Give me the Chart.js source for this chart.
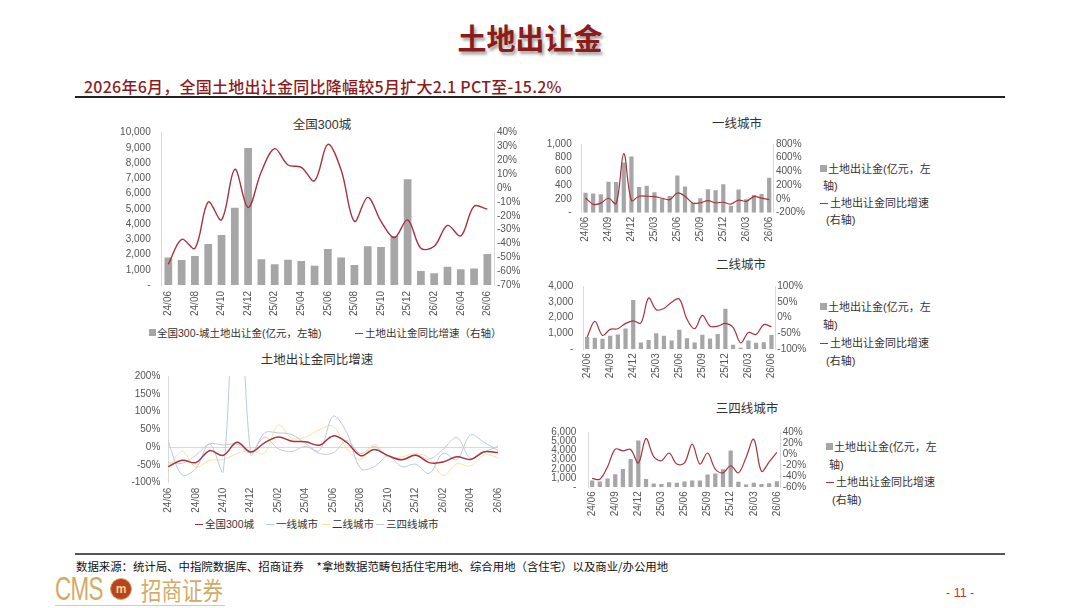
<!DOCTYPE html>
<html><head><meta charset="utf-8">
<script src="https://cdn.jsdelivr.net/npm/chart.js@4.4.1/dist/chart.umd.min.js"></script>
<style>
html,body{margin:0;padding:0;background:#fff;}
body{width:1080px;height:608px;position:relative;overflow:hidden;font-family:"Liberation Sans","Noto Sans CJK SC",sans-serif;}
.abs{position:absolute;white-space:nowrap;}
.ctitle{position:absolute;font-size:12.5px;color:#333;transform:translateX(-50%);font-family:"Liberation Sans","Noto Sans CJK SC";}
.lg{position:absolute;font-size:11px;color:#333;white-space:nowrap;font-family:"Liberation Sans","Noto Sans CJK SC";line-height:14px;}
.sq{display:inline-block;width:7px;height:7px;background:#a6a6a6;margin-right:1px;vertical-align:1px;}
.ln{display:inline-block;width:8px;height:1.5px;margin-right:2px;vertical-align:3px;}
.wrap{position:absolute;}
</style></head>
<body>
<div class="abs" style="left:0;width:1060px;top:16px;text-align:center;font-family:'Noto Sans CJK SC';font-weight:700;font-size:29px;color:#8c1c1c;text-shadow:2px 3px 3px rgba(0,0,0,0.35);">土地出让金</div>
<div class="abs" style="left:84px;top:74px;font-family:'Noto Sans CJK SC';font-weight:500;font-size:16px;color:#8c1c1c;letter-spacing:0.25px;">2026年6月，全国土地出让金同比降幅较5月扩大2.1 PCT至-15.2%</div>
<div class="abs" style="left:75px;top:96px;width:930px;height:1.5px;background:#222;"></div>

<div class="ctitle" style="left:322px;top:114px;">全国300城</div>
<div class="ctitle" style="left:317px;top:349px;">土地出让金同比增速</div>
<div class="ctitle" style="left:737px;top:113px;">一线城市</div>
<div class="ctitle" style="left:741px;top:254px;">二线城市</div>
<div class="ctitle" style="left:747px;top:398px;">三四线城市</div>

<div class="wrap" id="w1"><canvas id="c1"></canvas></div>
<div class="wrap" id="w2"><canvas id="c2"></canvas></div>
<div class="wrap" id="w3"><canvas id="c3"></canvas></div>
<div class="wrap" id="w4"><canvas id="c4"></canvas></div>
<div class="wrap" id="w5"><canvas id="c5"></canvas></div>

<div class="lg" style="left:149px;top:326px;font-size:10.5px;"><span class="sq"></span>全国300-城土地出让金(亿元，左轴)</div>
<div class="lg" style="left:355px;top:326px;font-size:10.5px;"><span class="ln" style="background:#a8323e"></span>土地出让金同比增速（右轴）</div>

<div class="lg" style="left:195px;top:517px;font-size:10.5px;"><span class="ln" style="background:#a8323e"></span>全国300城</div>
<div class="lg" style="left:266px;top:517px;font-size:10.5px;"><span class="ln" style="background:#b9c9e3"></span>一线城市</div>
<div class="lg" style="left:322px;top:517px;font-size:10.5px;"><span class="ln" style="background:#fbe19a"></span>二线城市</div>
<div class="lg" style="left:376px;top:517px;font-size:10.5px;"><span class="ln" style="background:#c9c9c9"></span>三四线城市</div>

<div class="lg" style="left:820px;top:161px;line-height:17px;"><span class="sq"></span>土地出让金(亿元，左<br>&nbsp;轴)<br><span class="ln" style="background:#a8323e"></span>土地出让金同比增速<br>&nbsp;&nbsp;(右轴)</div>
<div class="lg" style="left:820px;top:298px;line-height:18px;"><span class="sq"></span>土地出让金(亿元，左<br>&nbsp;轴)<br><span class="ln" style="background:#a8323e"></span>土地出让金同比增速<br>&nbsp;&nbsp;(右轴)</div>
<div class="lg" style="left:826px;top:439px;line-height:17.5px;"><span class="sq"></span>土地出让金(亿元，左<br>&nbsp;轴)<br><span class="ln" style="background:#a8323e"></span>土地出让金同比增速<br>&nbsp;&nbsp;(右轴)</div>

<div class="abs" style="left:75px;top:553px;width:930px;height:2px;background:#555;"></div>
<div class="abs" style="left:76px;top:558px;font-size:11.4px;color:#111;font-family:'Noto Sans CJK SC';">数据来源：统计局、中指院数据库、招商证券&nbsp;&nbsp;&nbsp;&nbsp;&nbsp;*拿地数据范畴包括住宅用地、综合用地（含住宅）以及商业/办公用地</div>
<div class="abs" style="left:55px;top:569px;font-family:'Liberation Sans';font-size:34px;color:#d3ab69;transform:scaleX(0.66);transform-origin:left;letter-spacing:-1px;">CMS</div>
<div class="abs" style="left:110px;top:578px;width:20px;height:20px;border-radius:50%;background:#b8441f;border:1.5px solid #d3ab69;color:#f3d48a;font-size:12px;font-weight:700;text-align:center;line-height:20px;">m</div>
<div class="abs" style="left:141px;top:571px;font-family:'Noto Sans CJK SC';font-size:25px;color:#d3ab69;transform:scaleX(0.82);transform-origin:left;">招商证券</div>
<div class="abs" style="left:55px;top:605px;width:170px;height:1px;background:#e3c99a;"></div>
<div class="abs" style="left:946px;top:586px;font-size:12.5px;color:#c0392b;">- 11 -</div>

<script>
const months = ['24/06','24/07','24/08','24/09','24/10','24/11','24/12','25/01','25/02','25/03','25/04','25/05','25/06','25/07','25/08','25/09','25/10','25/11','25/12','26/01','26/02','26/03','26/04','26/05','26/06'];
const nationalAmount = [1800,1640,1900,2690,3280,5080,9000,1690,1360,1660,1580,1270,2360,1800,1310,2540,2490,3220,6940,920,770,1200,1030,1090,2030];
const nationalYoY = [-55,-37,-43.5,-10,-23,13.5,-14,12,28.5,16.7,15,5.3,31.6,13,-24,-6.7,-24,-35.8,-23,-43.5,-42,-27,-34.6,-13.1,-15.2];
const tier1Amount = [290,278,270,452,448,730,817,374,391,296,200,243,543,383,139,209,343,326,413,100,339,196,257,274,509];
const tier1YoY = [15,-78,-60,10,-68,660,-20,40,40,35,10,-10,87,40,-60,-55,-25,-55,-48,-74,-17,-35,35,13,-9];
const tier2Amount = [780,725,670,860,940,1310,3120,430,590,1020,860,550,1235,705,430,920,690,960,2570,290,100,550,410,450,900];
const tier2YoY = [-61,-12,-56,-37,-35,-18,-10,-17,62,25,29,49,59,-5,-35,7,-27,-27,-18,-31,-80,-47,-53,-22,-29];
const tier34Amount = [740,620,960,1420,1980,3070,5080,900,400,370,560,500,620,740,740,1390,1490,1950,3990,590,310,500,370,430,650];
const tier34YoY = [-44,-45.5,-23,9,6,8.5,-16,28,-4.5,-12,2,-18,-16,18,-18,2,-27,-34,-21,-34,-6,27,-31,-14,3];

const RED = '#a8323e', BAR = '#a6a6a6', AXIS = '#d9d9d9', TXT = '#555';
const FONT = {family:'"Liberation Sans","Noto Sans CJK SC",sans-serif', size:10};

function amtFmt(v){ return v===0 ? '-' : v.toLocaleString('en-US'); }
function pctFmt(v){ return Math.round(v) + '%'; }

function setup(wrapId, g){
  const w = document.getElementById(wrapId);
  w.style.left = g.left+'px'; w.style.top = g.top+'px';
  w.style.width = g.width+'px'; w.style.height = g.height+'px';
}

function comboChart(id, wrapId, g, amount, yoy, opt){
  setup(wrapId, g);
  new Chart(document.getElementById(id), {
    data: {
      labels: months,
      datasets: [
        {type:'line', label:'土地出让金同比增速', data:yoy, yAxisID:'y2', borderColor:RED, borderWidth:opt.lw, pointRadius:0, tension:0.35, order:0},
        {type:'bar', label:'土地出让金', data:amount, yAxisID:'y', backgroundColor:BAR, barPercentage:opt.bp, categoryPercentage:1, order:1}
      ]
    },
    options: {
      responsive:true, maintainAspectRatio:false, animation:false,
      layout:{padding:{top:g.y0-g.top, left:0, right:0, bottom:0}},
      plugins:{legend:{display:false}, tooltip:{enabled:false}, title:{display:false}},
      scales:{
        x:{
          offset:true,
          grid:{display:false, drawTicks:false}, border:{display:false},
          ticks:{font:FONT, color:TXT, autoSkip:false, maxRotation:90, minRotation:90, padding:opt.xpad,
                 callback:(v,i)=> i%opt.every===0 ? months[i] : ''},
          afterFit:s=>{ s.height = g.top+g.height-g.y1; }
        },
        y:{
          position:'left', min:0, max:opt.ymax,
          grid:{display:false, drawTicks:false}, border:{color:AXIS},
          ticks:{font:FONT, color:TXT, autoSkip:false, stepSize:opt.ystep, padding:opt.lpad, callback:v=>amtFmt(v)},
          afterFit:s=>{ s.width = g.x0-g.left; }
        },
        y2:{
          position:'right', min:opt.rmin, max:opt.rmax,
          grid:{display:false, drawTicks:false}, border:{color:AXIS},
          ticks:{font:FONT, color:TXT, autoSkip:false, stepSize:opt.rstep, padding:opt.rpad, callback:v=>pctFmt(v)},
          afterFit:s=>{ s.width = g.left+g.width-g.x1; }
        }
      }
    }
  });
}

comboChart('c1','w1',{left:95,top:112,width:445,height:210,x0:161.7,x1:494,y0:132.7,y1:285},
  nationalAmount, nationalYoY, {lw:1.4, bp:0.58, every:2, xpad:6, ymax:10000, ystep:1000, lpad:11, rmin:-70, rmax:40, rstep:10, rpad:3});
comboChart('c3','w3',{left:540,top:128,width:270,height:120,x0:581.7,x1:773,y0:136,y1:212.7},
  tier1Amount, tier1YoY, {lw:1.2, bp:0.55, every:3, xpad:4, ymax:1000, ystep:200, lpad:10, rmin:-200, rmax:800, rstep:200, rpad:3});
comboChart('c4','w4',{left:540,top:270,width:270,height:118,x0:583.3,x1:775.3,y0:281.3,y1:349.3},
  tier2Amount, tier2YoY, {lw:1.2, bp:0.55, every:3, xpad:4, ymax:4000, ystep:1000, lpad:10, rmin:-100, rmax:100, rstep:50, rpad:2});
comboChart('c5','w5',{left:540,top:414,width:275,height:112,x0:588.3,x1:780.7,y0:422.7,y1:487.3},
  tier34Amount, tier34YoY, {lw:1.2, bp:0.55, every:3, xpad:4, ymax:6000, ystep:1000, lpad:12, rmin:-60, rmax:40, rstep:20, rpad:2});

// YoY comparison chart
(function(){
  const g = {left:95,top:362,width:420,height:155,x0:168.3,x1:492,y0:374.3,y1:482.7};
  setup('w2', g);
  const mk = (label, data, color, w) => ({type:'line', label, data, borderColor:color, borderWidth:w, pointRadius:0, tension:0.35});
  new Chart(document.getElementById('c2'), {
    data:{
      labels: months,
      datasets:[
        mk('全国300城', nationalYoY, RED, 1.5),
        mk('一线城市', tier1YoY, '#b9c9e3', 1),
        mk('二线城市', tier2YoY, '#fbe19a', 1),
        mk('三四线城市', tier34YoY, '#c9c9c9', 1)
      ]
    },
    options:{
      responsive:true, maintainAspectRatio:false, animation:false,
      layout:{padding:{top:g.y0-g.top, left:0, right:0, bottom:0}},
      plugins:{legend:{display:false}, tooltip:{enabled:false}},
      scales:{
        x:{
          offset:false,
          grid:{display:false, drawTicks:false}, border:{display:false},
          ticks:{font:FONT, color:TXT, autoSkip:false, maxRotation:90, minRotation:90, padding:5,
                 callback:(v,i)=> i%2===0 ? months[i] : ''},
          afterFit:s=>{ s.height = g.top+g.height-g.y1; }
        },
        y:{
          min:-100, max:200,
          grid:{drawTicks:false, color:c=> c.tick && c.tick.value===0 ? AXIS : 'rgba(0,0,0,0)'},
          border:{color:AXIS},
          ticks:{font:FONT, color:TXT, autoSkip:false, stepSize:50, padding:8, callback:v=>pctFmt(v)},
          afterFit:s=>{ s.width = g.x0-g.left; }
        }
      }
    }
  });
})();
</script>
</body></html>
